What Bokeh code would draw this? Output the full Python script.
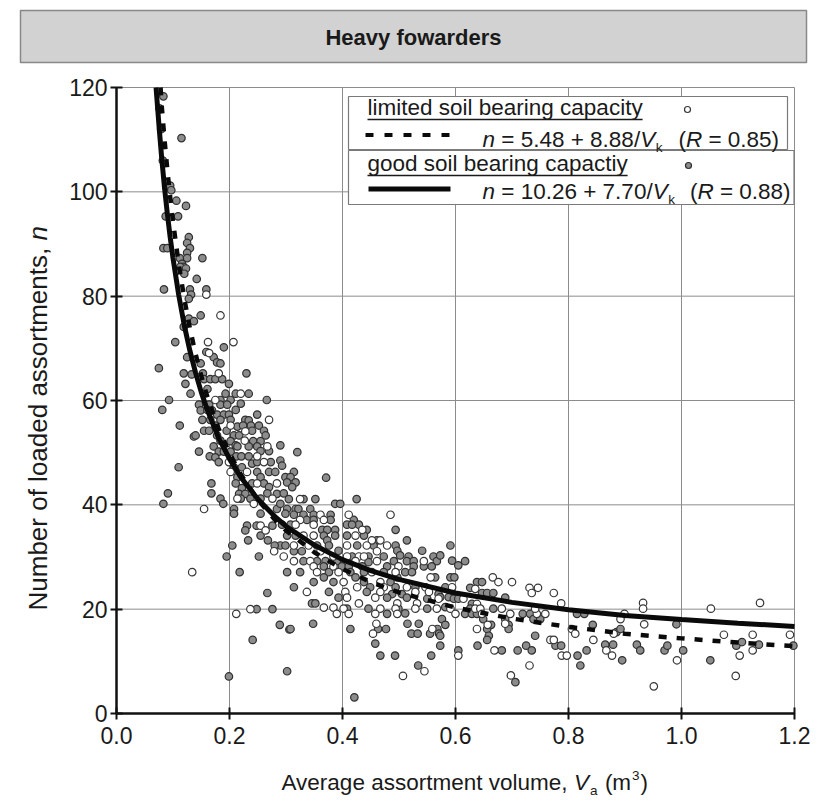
import math
from bokeh.plotting import figure
from bokeh.models import Range1d, FixedTicker, PrintfTickFormatter, Label, BoxAnnotation
from bokeh.embed import file_html
from bokeh.resources import INLINE

# ---------------- data ----------------
x_ticks = [0.0, 0.2, 0.4, 0.6, 0.8, 1.0, 1.2]
y_ticks = [0, 20, 40, 60, 80, 100, 120]

title_text = "Heavy fowarders"
label_limited = "limited soil bearing capacity"
label_good = "good soil bearing capactiy"

# good soil bearing capacity (grey filled markers): (V, n)
good_pts = [
    (0.083, 118.3), (0.115, 110.3), (0.079, 112.0), (0.082, 106.0), (0.088, 101.0), (0.095, 101.2),
    (0.097, 100.3), (0.106, 98.3), (0.123, 97.3), (0.087, 95.3), (0.109, 95.3), (0.128, 91.3),
    (0.125, 90.2), (0.130, 89.2), (0.083, 89.2), (0.090, 89.2), (0.125, 88.3), (0.112, 87.3),
    (0.125, 87.3), (0.152, 87.3), (0.116, 86.2), (0.119, 85.6), (0.113, 85.6), (0.123, 85.3),
    (0.120, 84.3), (0.142, 83.3), (0.084, 81.3), (0.130, 81.3), (0.159, 81.3), (0.132, 80.3),
    (0.128, 79.5), (0.149, 76.3), (0.128, 75.7), (0.137, 75.2),
    (0.075, 66.2), (0.093, 60.1), (0.081, 58.2), (0.112, 55.2), (0.104, 71.2), (0.119, 74.1),
    (0.110, 47.2), (0.091, 42.2), (0.083, 40.2), (0.137, 53.1), (0.146, 50.2), (0.168, 44.1),
    (0.168, 42.2), (0.184, 41.2), (0.189, 40.2), (0.208, 39.2), (0.190, 70.2), (0.159, 69.3),
    (0.125, 68.3), (0.172, 68.3), (0.178, 67.3), (0.184, 67.1), (0.149, 67.1), (0.119, 65.2),
    (0.133, 65.0), (0.153, 65.2), (0.230, 65.2), (0.122, 63.2), (0.155, 64.1), (0.166, 64.1),
    (0.175, 64.1), (0.187, 64.1), (0.161, 62.2), (0.199, 63.2), (0.131, 61.3), (0.193, 61.3),
    (0.211, 61.3), (0.234, 61.3), (0.184, 60.1), (0.202, 60.1), (0.266, 60.1), (0.146, 59.2),
    (0.164, 59.2), (0.184, 59.2), (0.196, 59.2), (0.220, 59.4), (0.149, 58.1), (0.161, 58.2),
    (0.169, 58.1), (0.178, 57.3), (0.190, 57.3), (0.199, 57.3), (0.211, 58.2), (0.249, 57.3),
    (0.152, 56.3), (0.166, 56.3), (0.184, 56.3), (0.202, 56.3), (0.228, 56.3), (0.234, 56.2),
    (0.155, 54.2), (0.164, 54.2), (0.175, 55.2), (0.214, 55.0), (0.224, 55.2), (0.238, 55.2),
    (0.252, 55.2), (0.195, 54.2), (0.208, 53.3), (0.217, 53.3), (0.240, 54.2), (0.261, 54.2),
    (0.140, 53.3), (0.178, 53.3), (0.184, 52.3), (0.202, 52.2), (0.211, 51.4), (0.242, 52.2),
    (0.255, 52.2), (0.264, 53.3), (0.172, 51.2), (0.214, 51.2), (0.234, 51.2), (0.249, 51.2),
    (0.181, 50.2), (0.190, 50.2), (0.202, 50.2), (0.165, 49.3), (0.175, 49.1), (0.212, 49.3),
    (0.221, 49.3), (0.234, 49.3), (0.255, 50.3), (0.270, 50.3), (0.181, 48.2), (0.208, 47.2),
    (0.222, 47.2), (0.240, 47.9), (0.249, 48.2), (0.273, 48.2), (0.214, 45.3), (0.249, 46.3),
    (0.255, 45.3), (0.270, 46.3), (0.281, 46.3), (0.211, 44.1), (0.222, 43.2), (0.240, 44.1),
    (0.261, 44.1), (0.270, 43.4), (0.217, 42.1), (0.228, 42.1), (0.237, 41.2), (0.255, 41.2),
    (0.267, 42.2), (0.284, 42.1), (0.220, 41.2), (0.255, 38.3), (0.284, 39.2), (0.208, 38.3),
    (0.290, 51.4), (0.290, 48.5), (0.293, 47.5), (0.320, 50.1), (0.314, 46.3), (0.299, 45.3),
    (0.308, 45.3), (0.302, 44.3), (0.317, 44.3), (0.311, 43.4), (0.296, 42.2), (0.290, 40.2),
    (0.305, 41.1), (0.331, 41.1), (0.352, 41.1), (0.387, 40.2), (0.396, 40.2), (0.425, 41.1),
    (0.371, 45.2), (0.302, 39.2), (0.317, 39.2), (0.322, 39.2), (0.343, 39.2), (0.299, 38.3),
    (0.314, 38.1), (0.331, 38.1), (0.349, 38.1), (0.379, 38.1), (0.337, 37.1), (0.349, 37.1),
    (0.379, 37.1), (0.420, 37.1), (0.429, 36.2), (0.293, 36.2), (0.308, 36.2), (0.364, 35.2),
    (0.373, 35.2), (0.387, 35.2), (0.408, 36.2), (0.417, 36.2), (0.443, 35.2), (0.494, 35.2),
    (0.302, 34.1), (0.317, 34.1), (0.367, 34.1), (0.387, 34.1), (0.408, 34.1), (0.438, 34.1),
    (0.461, 33.2), (0.514, 33.2), (0.290, 32.2), (0.299, 32.2), (0.355, 32.2), (0.373, 33.2),
    (0.376, 32.2), (0.393, 31.2), (0.426, 32.2), (0.455, 32.2), (0.494, 32.2), (0.497, 31.2),
    (0.541, 31.2), (0.314, 31.1), (0.328, 31.1), (0.417, 30.1), (0.446, 30.1), (0.473, 30.1),
    (0.502, 30.3), (0.517, 30.1), (0.561, 30.1), (0.331, 29.2), (0.355, 29.2), (0.370, 29.2),
    (0.390, 29.2), (0.446, 29.0), (0.491, 29.2), (0.514, 29.2), (0.526, 29.2), (0.567, 29.2),
    (0.367, 28.2), (0.399, 28.2), (0.411, 28.2), (0.435, 28.2), (0.479, 28.2), (0.526, 28.2),
    (0.544, 28.2), (0.558, 28.2), (0.302, 27.1), (0.325, 27.1), (0.376, 27.1), (0.414, 27.1),
    (0.438, 27.1), (0.473, 27.1), (0.511, 27.1), (0.523, 27.1), (0.564, 26.1), (0.349, 25.2),
    (0.367, 26.1), (0.384, 25.2), (0.423, 26.1), (0.438, 25.2), (0.485, 25.2), (0.497, 26.1),
    (0.314, 24.2), (0.449, 24.2), (0.494, 24.2), (0.529, 24.2), (0.376, 23.3), (0.443, 23.3),
    (0.488, 22.9), (0.505, 22.9), (0.570, 22.9), (0.346, 21.1), (0.352, 21.1), (0.393, 22.2),
    (0.479, 22.2), (0.514, 22.2), (0.550, 22.0), (0.408, 20.1), (0.446, 20.1), (0.499, 20.1),
    (0.511, 19.2), (0.550, 20.1), (0.479, 19.1),
    (0.231, 36.0), (0.228, 35.1), (0.248, 36.0), (0.276, 36.0), (0.255, 34.1), (0.233, 33.2),
    (0.268, 33.2), (0.280, 32.2), (0.205, 32.2), (0.195, 30.1), (0.252, 30.1), (0.218, 27.1),
    (0.267, 23.1), (0.248, 20.0), (0.276, 20.0), (0.289, 17.0), (0.306, 16.1), (0.241, 14.1),
    (0.302, 8.1), (0.199, 7.1),
    (0.348, 17.2), (0.308, 16.2), (0.414, 16.2), (0.463, 16.2), (0.477, 16.2), (0.458, 13.4),
    (0.467, 11.1), (0.493, 11.1), (0.515, 17.2), (0.522, 15.3), (0.533, 15.3), (0.535, 17.2),
    (0.555, 15.3), (0.568, 16.2), (0.571, 15.3), (0.534, 9.2), (0.421, 3.1), (0.557, 11.1),
    (0.573, 30.3), (0.591, 32.2), (0.594, 29.3), (0.605, 28.4), (0.617, 29.2), (0.591, 26.1),
    (0.598, 26.1), (0.573, 22.3), (0.588, 22.3), (0.597, 22.0), (0.605, 22.0), (0.582, 20.4),
    (0.617, 19.1), (0.629, 21.0), (0.626, 20.1), (0.629, 19.1), (0.638, 19.1), (0.626, 24.1),
    (0.638, 25.2), (0.647, 25.2), (0.647, 23.1), (0.656, 23.1), (0.667, 23.1), (0.688, 22.2),
    (0.667, 20.1), (0.649, 18.1), (0.663, 17.0), (0.656, 16.2), (0.659, 14.9), (0.656, 14.1),
    (0.639, 13.0), (0.688, 18.1), (0.694, 17.0), (0.694, 16.2), (0.719, 19.1), (0.732, 19.1),
    (0.738, 18.1), (0.750, 18.1), (0.741, 14.9), (0.777, 13.0), (0.787, 13.0), (0.725, 13.0),
    (0.735, 12.1), (0.710, 12.1), (0.682, 12.1), (0.706, 6.0), (0.576, 18.1), (0.582, 17.0),
    (0.573, 14.9), (0.573, 13.0), (0.605, 12.1), (0.815, 19.1), (0.828, 19.1), (0.843, 17.0),
    (0.832, 12.1), (0.816, 11.1), (0.821, 9.2), (0.865, 13.2), (0.879, 13.2), (0.885, 15.6),
    (0.892, 16.2), (0.895, 10.2), (0.921, 13.2), (0.582, 24.2),
    (0.927, 12.1), (0.970, 12.1), (0.975, 13.0), (0.991, 17.1), (1.003, 12.1), (1.051, 10.2),
    (1.097, 13.0), (1.107, 13.7), (1.137, 13.2), (1.198, 13.0),
]

# limited soil bearing capacity (open markers): (V, n)
limited_pts = [
    (0.076, 116.0), (0.159, 80.3), (0.184, 76.3),
    (0.155, 39.2), (0.162, 71.2), (0.207, 71.2), (0.164, 69.1), (0.181, 65.2), (0.220, 61.3),
    (0.175, 60.1), (0.270, 56.3), (0.202, 55.2), (0.228, 54.1), (0.227, 52.3), (0.267, 51.2),
    (0.249, 49.3), (0.199, 48.2), (0.261, 48.2), (0.202, 46.3), (0.231, 46.3), (0.249, 44.1),
    (0.284, 44.1), (0.214, 41.2), (0.243, 40.2), (0.276, 41.2),
    (0.325, 41.1), (0.361, 38.1), (0.411, 38.1), (0.325, 37.1), (0.367, 37.1), (0.485, 38.1),
    (0.317, 36.2), (0.349, 36.2), (0.435, 35.2), (0.331, 34.1), (0.349, 34.1), (0.423, 34.1),
    (0.452, 33.2), (0.467, 33.2), (0.314, 32.2), (0.340, 32.2), (0.408, 32.2), (0.443, 32.2),
    (0.479, 32.2), (0.296, 30.1), (0.361, 31.1), (0.384, 30.1), (0.408, 30.1), (0.429, 30.1),
    (0.438, 30.1), (0.461, 31.1), (0.314, 29.2), (0.343, 29.2), (0.423, 29.2), (0.461, 29.2),
    (0.544, 29.2), (0.349, 28.2), (0.384, 28.2), (0.499, 28.2), (0.355, 27.1), (0.393, 27.1),
    (0.452, 27.1), (0.494, 27.1), (0.556, 26.1), (0.402, 25.2), (0.467, 25.2), (0.426, 24.2),
    (0.473, 24.2), (0.514, 24.2), (0.547, 24.2), (0.337, 23.3), (0.405, 23.3), (0.467, 23.3),
    (0.529, 23.3), (0.553, 23.3), (0.408, 22.2), (0.429, 21.1), (0.458, 22.2), (0.497, 21.1),
    (0.532, 21.1), (0.570, 22.0), (0.367, 20.3), (0.384, 20.3), (0.402, 20.1), (0.467, 20.1),
    (0.494, 20.1), (0.529, 20.1), (0.567, 20.1), (0.390, 19.1), (0.411, 19.1), (0.458, 19.1),
    (0.497, 19.1),
    (0.255, 36.0), (0.264, 35.1), (0.279, 31.1), (0.134, 27.1), (0.237, 20.0), (0.212, 19.1),
    (0.454, 15.3), (0.559, 16.2), (0.545, 8.1), (0.507, 7.2), (0.460, 17.2),
    (0.614, 22.0), (0.591, 20.1), (0.600, 19.1), (0.638, 21.0), (0.635, 20.1), (0.644, 20.1),
    (0.647, 19.1), (0.635, 23.9), (0.666, 26.1), (0.676, 25.2), (0.700, 25.2), (0.731, 24.1),
    (0.746, 24.1), (0.735, 23.1), (0.774, 23.1), (0.787, 21.1), (0.682, 20.1), (0.657, 17.0),
    (0.638, 16.2), (0.688, 17.2), (0.697, 19.1), (0.744, 19.1), (0.759, 19.1), (0.741, 20.1),
    (0.768, 14.1), (0.774, 14.1), (0.669, 12.1), (0.731, 9.2), (0.698, 7.3), (0.605, 11.1),
    (0.806, 16.2), (0.812, 15.3), (0.844, 14.1), (0.788, 11.1), (0.797, 11.1), (0.867, 12.1),
    (0.877, 11.1), (0.880, 15.3), (0.899, 19.1), (0.892, 18.1), (0.594, 24.2),
    (0.932, 21.2), (0.932, 20.1), (0.934, 17.1), (0.951, 5.2), (0.992, 10.2), (1.052, 20.1),
    (1.075, 15.1), (1.103, 11.1), (1.096, 7.2), (1.126, 15.1), (1.126, 12.1), (1.139, 21.2),
    (1.192, 15.1),
]

good_v = [v for v, n in good_pts]
good_n = [n for v, n in good_pts]
limited_v = [v for v, n in limited_pts]
limited_n = [n for v, n in limited_pts]

# fitted curves (they start at the top edge, n = 120)
fit_good_v = [0.070, 0.072, 0.076, 0.08, 0.085, 0.09, 0.095, 0.10, 0.11, 0.12, 0.13, 0.14,
              0.15, 0.16, 0.18, 0.20, 0.22, 0.25, 0.28, 0.30, 0.35, 0.40, 0.45, 0.50, 0.60, 0.70,
              0.80, 0.90, 1.00, 1.10, 1.20]
fit_good_n = [120.0, 117.2, 111.6, 106.5, 100.8, 95.8, 91.3, 87.3, 80.3, 74.4, 69.5, 65.3,
              61.6, 58.4, 53.0, 48.8, 45.3, 41.1, 37.8, 35.9, 32.3, 29.5, 27.4, 25.7, 23.1, 21.3,
              19.9, 18.8, 18.0, 17.3, 16.7]
fit_limited_v = [0.078, 0.08, 0.085, 0.09, 0.095, 0.10, 0.11, 0.12, 0.13, 0.14, 0.15, 0.16,
                 0.18, 0.20, 0.22, 0.25, 0.28, 0.30, 0.35, 0.40, 0.45, 0.50, 0.60, 0.70, 0.80,
                 0.90, 1.00, 1.10, 1.20]
fit_limited_n = [120.0, 116.5, 110.0, 104.2, 99.0, 94.3, 86.2, 79.5, 73.8, 68.9, 64.7, 61.0,
                 54.8, 49.9, 45.8, 41.0, 37.2, 35.1, 30.9, 27.7, 25.2, 23.2, 20.3, 18.2, 16.6,
                 15.3, 14.4, 13.6, 12.9]

# ---------------- layout ----------------
W, H = 823, 804
# pixel positions of the data window (x 0..1.2, y 0..120) inside the canvas
PL, PR, PT, PB = 116, 794, 87, 713
XA, XB = x_ticks[0], x_ticks[-1]
YA, YB = y_ticks[0], y_ticks[-1]
sx = (PR - PL) / (XB - XA)
sy = (PB - PT) / (YB - YA)
FONT = "Liberation Sans"
TXT = "#1a1a1a"
BASE_FIX = 0.356  # label anchor correction (fraction of font size)


def X(px):
    return XA + (px - PL) / sx


def Y(py):
    return YA + (PB - py) / sy


AW = {' ': 278, '(': 333, ')': 333, '+': 584, ',': 278, '.': 278, '/': 278, '=': 584,
      'A': 667, 'N': 722, 'R': 722, 'V': 667, 'H': 722,
      'a': 556, 'b': 556, 'c': 500, 'd': 556, 'e': 556, 'f': 278, 'g': 556, 'h': 556, 'i': 222,
      'k': 500, 'l': 222, 'm': 833, 'n': 556, 'o': 556, 'p': 556, 'r': 333, 's': 500, 't': 278,
      'u': 556, 'v': 500, 'w': 722, 'y': 500}


def tw(s, size):
    return sum(AW.get(c, 556) for c in s) / 1000.0 * size


p = figure(width=W, height=H, x_range=Range1d(X(0), X(W)), y_range=Range1d(Y(H), Y(0)),
           output_backend="svg", toolbar_location=None,
           min_border_left=0, min_border_right=0, min_border_top=0, min_border_bottom=0)
p.background_fill_color = "white"
p.border_fill_color = "white"
p.outline_line_color = None
p.xgrid.visible = False
p.ygrid.visible = False

p.xaxis.ticker = FixedTicker(ticks=x_ticks)
p.yaxis.ticker = FixedTicker(ticks=y_ticks)
p.xaxis.formatter = PrintfTickFormatter(format="%.1f")
p.xaxis.fixed_location = YA
p.yaxis.fixed_location = XA
p.xaxis.bounds = (XA, XB)
p.yaxis.bounds = (YA, YB)
for ax in (p.xaxis, p.yaxis):
    ax.axis_line_width = 2.5
    ax.axis_line_color = "#111111"
    ax.major_tick_line_width = 2
    ax.major_tick_line_color = "#111111"
    ax.major_tick_in = 6
    ax.major_tick_out = 6
    ax.minor_tick_line_color = None
    ax.major_label_text_font = FONT
    ax.major_label_text_font_size = "23px"
    ax.major_label_text_color = TXT
p.xaxis.major_label_standoff = 7
p.yaxis.major_label_standoff = 3

# grid lines at the tick values
p.segment(x0=x_ticks, y0=[YA] * len(x_ticks), x1=x_ticks, y1=[YB] * len(x_ticks),
          line_color="#8c8c8c", line_width=1)
p.segment(x0=[XA] * len(y_ticks), y0=y_ticks, x1=[XB] * len(y_ticks), y1=y_ticks,
          line_color="#8c8c8c", line_width=1)

# scatter
p.scatter(good_v, good_n, size=7.5, marker="circle", fill_color="#8c8c8c", line_color="#303030",
          line_width=1.2)
p.scatter(limited_v, limited_n, size=7.5, marker="circle", fill_color="white",
          line_color="#383838", line_width=1.2)

# fitted curves
p.line(fit_limited_v, fit_limited_n, line_color="#0a0a0a", line_width=4.5, line_dash="8 10")
p.line(fit_good_v, fit_good_n, line_color="#0a0a0a", line_width=5)

# legend boxes (glyphs so that the samples sit on top)
p.quad(left=[X(348)], right=[X(787)], top=[Y(96)], bottom=[Y(149)], fill_color="white",
       line_color="#7a7a7a", line_width=1.2)
p.quad(left=[X(348)], right=[X(793.5)], top=[Y(150)], bottom=[Y(204)], fill_color="white",
       line_color="#7a7a7a", line_width=1.2)
LS = 22.5
p.line([X(367), X(367 + tw(label_limited, LS))], [Y(119), Y(119)], line_color=TXT, line_width=1.3)
p.line([X(367), X(367 + tw(label_good, LS))], [Y(175), Y(175)], line_color=TXT, line_width=1.3)
p.line([X(365), X(450)], [Y(134.5), Y(134.5)], line_color="#0a0a0a", line_width=4,
       line_dash="8 11")
p.line([X(368), X(450)], [Y(188.5), Y(188.5)], line_color="#0a0a0a", line_width=5)
p.scatter([X(687)], [Y(109)], size=6, marker="circle", fill_color="white", line_color="#383838",
          line_width=1.2)
p.scatter([X(688)], [Y(165)], size=6, marker="circle", fill_color="#8c8c8c", line_color="#303030",
          line_width=1.2)

# title box
p.add_layout(BoxAnnotation(left=X(20), right=X(806), top=Y(10), bottom=Y(62), fill_color="#d2d2d2",
                           fill_alpha=1.0, line_color="#888888", line_alpha=1.0, line_width=1.5))


def put(text, px, py, size, style="normal", align="left", angle=0.0):
    # py is the wanted baseline (for rotated text px is the baseline)
    if angle == 0.0:
        ax_, ay_ = px, py - BASE_FIX * size
    else:
        ax_, ay_ = px - BASE_FIX * size, py
    p.add_layout(Label(x=X(ax_), y=Y(ay_), text=text, text_font=FONT,
                       text_font_size=f"{size:.1f}px", text_font_style=style, text_align=align,
                       text_baseline="alphabetic", angle=angle, text_color=TXT))


def rich(pieces, px, py, size):
    pos = px
    for text, style, kind, gap in pieces:
        pos += gap
        s = size if kind == "n" else size * 0.6
        off = 0.0 if kind == "n" else (0.22 * size if kind == "sub" else -0.45 * size)
        put(text, pos, py + off, s, style)
        pos += tw(text, s)


put(title_text, 413, 45, 22, style="bold", align="center")

sp = 0.278 * LS
put(label_limited, 367, 115, LS)
rich([("n", "italic", "n", 0), ("= 5.48 + 8.88/", "normal", "n", sp), ("V", "italic", "n", 0),
      ("k", "normal", "sub", 0.5), ("(", "normal", "n", 16), ("R", "italic", "n", 0),
      ("= 0.85)", "normal", "n", sp)], 482, 147, LS)
put(label_good, 367, 171, LS)
rich([("n", "italic", "n", 0), ("= 10.26 + 7.70/", "normal", "n", sp), ("V", "italic", "n", 0),
      ("k", "normal", "sub", 0.5), ("(", "normal", "n", 15), ("R", "italic", "n", 0),
      ("= 0.88)", "normal", "n", sp)], 482, 199, LS)

XS = 22.5
rich([("Average assortment volume,", "normal", "n", 0), ("V", "italic", "n", 0.278 * XS),
      ("a", "normal", "sub", 1), ("(m", "normal", "n", 0.278 * XS + 1), ("3", "normal", "sup", 1),
      (")", "normal", "n", 1)], 281, 790, XS)

YS = 26
ytxt = "Number of loaded assortments,"
ystart = 610
put(ytxt, 47, ystart, YS, angle=math.pi / 2)
put("n", 47, ystart - tw(ytxt, YS) - 0.278 * YS, YS, style="italic", angle=math.pi / 2)

open("out.html", "w").write(file_html(p, INLINE))
